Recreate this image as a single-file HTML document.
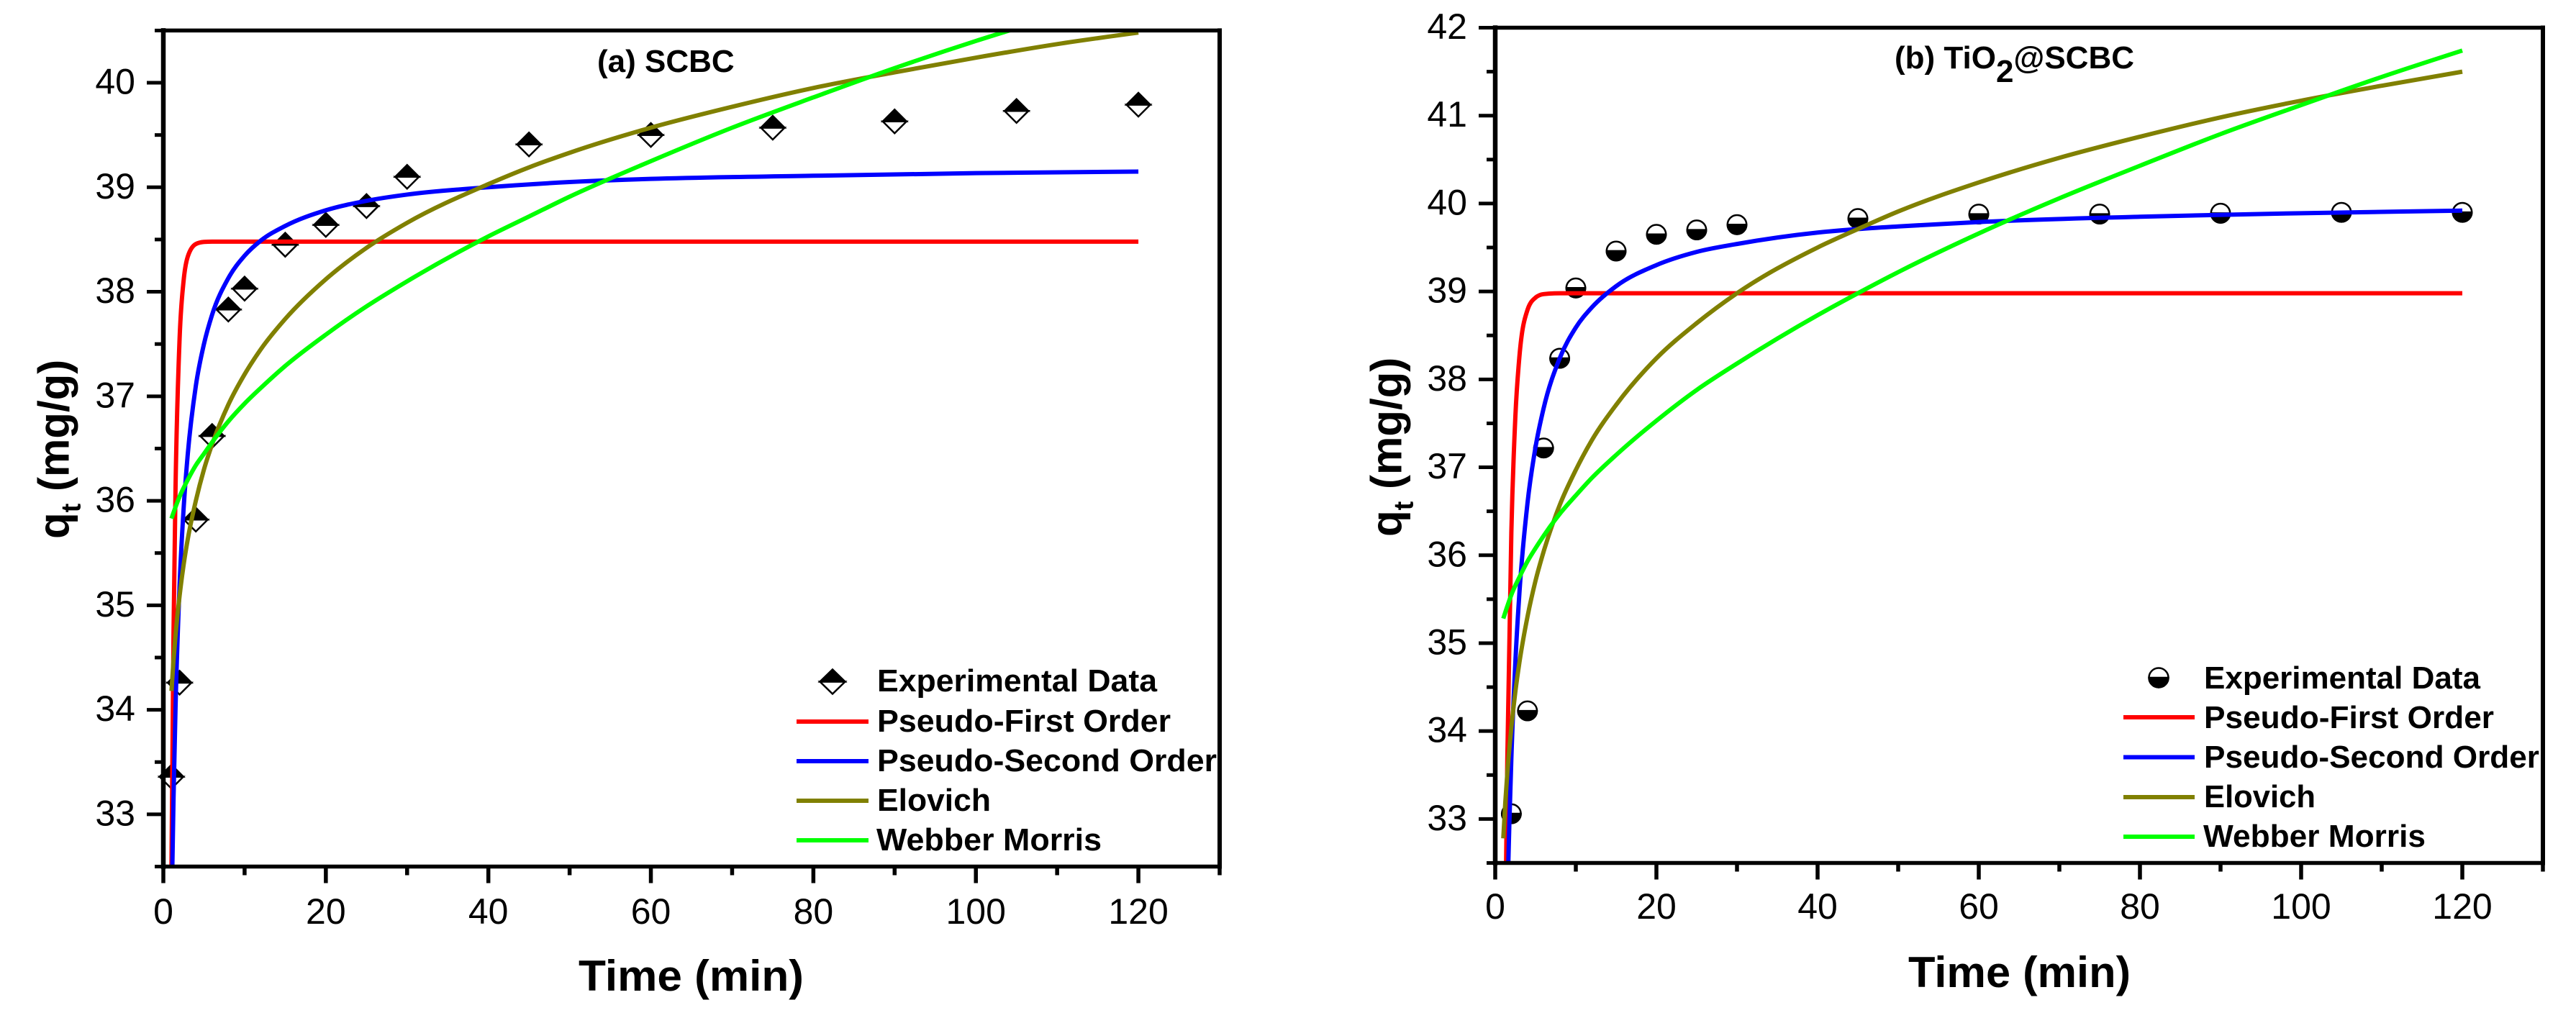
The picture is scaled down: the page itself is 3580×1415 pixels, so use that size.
<!DOCTYPE html>
<html lang="en">
<head>
<meta charset="utf-8">
<title>Adsorption kinetics of SCBC and TiO2@SCBC</title>
<style>
html,body{margin:0;padding:0;background:#fff;}
svg{display:block;}
text{font-family:"Liberation Sans",Arial,sans-serif;fill:#000;}
.lg{font-size:44px;font-weight:700;}
.ttl{font-weight:700;}
</style>
</head>
<body>
<svg id="figure" xmlns="http://www.w3.org/2000/svg" width="3580" height="1415" viewBox="0 0 3580 1415">
  <rect width="3580" height="1415" fill="#fff"/>
  <g id="panel-a"></g>
  <g id="panel-b"></g>

  <!-- Panel (a) static text -->
  <text class="ttl" x="830" y="100" font-size="44">(a) SCBC</text>
  <text class="ttl" x="804" y="1377" font-size="60" textLength="313" lengthAdjust="spacingAndGlyphs">Time (min)</text>
  <text class="ttl" transform="translate(95.5,749) rotate(-90)" font-size="60">q<tspan font-size="38" dy="16">t</tspan><tspan dy="-16"> (mg/g)</tspan></text>

  <g>
    <g transform="translate(1157,947.5)">
      <polygon points="-17.5,0 0,17 17.5,0" fill="#fff" stroke="#000" stroke-width="2.5" stroke-linejoin="miter"/>
      <polygon points="-17.5,0 0,-17 17.5,0" fill="#000" stroke="#000" stroke-width="2.5"/>
    </g>
    <line x1="1107" x2="1207" y1="1003" y2="1003" stroke="#ff0000" stroke-width="6"/>
    <line x1="1107" x2="1207" y1="1058" y2="1058" stroke="#0000ff" stroke-width="6"/>
    <line x1="1107" x2="1207" y1="1113" y2="1113" stroke="#808000" stroke-width="6"/>
    <line x1="1107" x2="1207" y1="1168" y2="1168" stroke="#00ff00" stroke-width="6"/>
    <text class="lg" x="1219" y="961" textLength="389" lengthAdjust="spacingAndGlyphs">Experimental Data</text>
    <text class="lg" x="1219" y="1017" textLength="408" lengthAdjust="spacingAndGlyphs">Pseudo-First Order</text>
    <text class="lg" x="1219" y="1072" textLength="472" lengthAdjust="spacingAndGlyphs">Pseudo-Second Order</text>
    <text class="lg" x="1219" y="1127" textLength="158" lengthAdjust="spacingAndGlyphs">Elovich</text>
    <text class="lg" x="1218" y="1182" textLength="313" lengthAdjust="spacingAndGlyphs">Webber Morris</text>
  </g>

  <!-- Panel (b) static text -->
  <text class="ttl" x="2633" y="95" font-size="44">(b) TiO<tspan dy="19">2</tspan><tspan dy="-19">@SCBC</tspan></text>
  <text class="ttl" x="2652" y="1372" font-size="60" textLength="309" lengthAdjust="spacingAndGlyphs">Time (min)</text>
  <text class="ttl" transform="translate(1947.5,746) rotate(-90)" font-size="60">q<tspan font-size="38" dy="16">t</tspan><tspan dy="-16"> (mg/g)</tspan></text>

  <g>
    <g transform="translate(3000,942)">
      <circle r="13.5" fill="#fff" stroke="#000" stroke-width="2.5"/>
      <path d="M-13.5,0 A13.5,13.5 0 0 0 13.5,0 Z" fill="#000" stroke="#000" stroke-width="2.5"/>
    </g>
    <line x1="2951" x2="3050" y1="997" y2="997" stroke="#ff0000" stroke-width="6"/>
    <line x1="2951" x2="3050" y1="1052.5" y2="1052.5" stroke="#0000ff" stroke-width="6"/>
    <line x1="2951" x2="3050" y1="1108" y2="1108" stroke="#808000" stroke-width="6"/>
    <line x1="2951" x2="3050" y1="1163" y2="1163" stroke="#00ff00" stroke-width="6"/>
    <text class="lg" x="3063" y="957" textLength="384" lengthAdjust="spacingAndGlyphs">Experimental Data</text>
    <text class="lg" x="3063" y="1012" textLength="403" lengthAdjust="spacingAndGlyphs">Pseudo-First Order</text>
    <text class="lg" x="3063" y="1067" textLength="466" lengthAdjust="spacingAndGlyphs">Pseudo-Second Order</text>
    <text class="lg" x="3063" y="1122" textLength="155" lengthAdjust="spacingAndGlyphs">Elovich</text>
    <text class="lg" x="3062" y="1177" textLength="309" lengthAdjust="spacingAndGlyphs">Webber Morris</text>
  </g>
</svg>

<script>
/* ---------- shared axis data ---------- */
const xMajorTicks = [0, 20, 40, 60, 80, 100, 120];
const xMajorLabels = ['0', '20', '40', '60', '80', '100', '120'];
const xMinorTicks = [10, 30, 50, 70, 90, 110, 130];

/* ---------- panel (a) data ---------- */
const yMajorTicksA = [33, 34, 35, 36, 37, 38, 39, 40];
const yMajorLabelsA = ['33', '34', '35', '36', '37', '38', '39', '40'];
const yMinorTicksA = [32.5, 33.5, 34.5, 35.5, 36.5, 37.5, 38.5, 39.5, 40.5];

const expTimesA = [1, 2, 4, 6, 8, 10, 15, 20, 25, 30, 45, 60, 75, 90, 105, 120];
const expValuesA = [33.36, 34.26, 35.82, 36.62, 37.83, 38.03, 38.45, 38.64, 38.82, 39.10, 39.41, 39.50, 39.57, 39.63, 39.73, 39.79];

const pfoTimesA = [1, 1.25, 1.5, 2, 2.5, 3, 4, 5, 6, 120];
const pfoValuesA = [32.49, 34.72, 36.12, 37.55, 38.11, 38.335, 38.457, 38.477, 38.48, 38.48];

const psoTimesA = [1.1, 1.25, 1.5, 2, 2.5, 3, 4, 5, 6, 8, 10, 12, 15, 20, 25, 30, 40, 50, 60, 80, 100, 120];
const psoValuesA = [32.46, 33.14, 34.02, 35.19, 35.93, 36.44, 37.10, 37.50, 37.78, 38.13, 38.345, 38.49, 38.63, 38.78, 38.87, 38.93, 39.00, 39.05, 39.08, 39.11, 39.135, 39.15];

const elovichTimesA = [1, 1.25, 1.5, 2, 2.5, 3, 4, 5, 6, 8, 10, 12, 15, 20, 25, 30, 40, 45, 50, 60, 70, 80, 90, 100, 110, 120];
const elovichValuesA = [34.18, 34.47, 34.71, 35.09, 35.39, 35.63, 36.00, 36.30, 36.54, 36.92, 37.21, 37.45, 37.74, 38.12, 38.42, 38.66, 39.03, 39.19, 39.33, 39.57, 39.77, 39.95, 40.10, 40.24, 40.37, 40.48];

const webberTimesA = [1, 1.5, 2, 3, 4, 5, 6, 8, 10, 12, 15, 20, 25, 30, 40, 45, 50, 60, 70, 80, 90, 100, 110, 120];
const webberValuesA = [35.83, 35.94, 36.04, 36.20, 36.34, 36.45, 36.56, 36.76, 36.93, 37.08, 37.29, 37.59, 37.86, 38.10, 38.53, 38.72, 38.91, 39.25, 39.57, 39.86, 40.14, 40.40, 40.64, 40.88];

/* ---------- panel (b) data ---------- */
const yMajorTicksB = [33, 34, 35, 36, 37, 38, 39, 40, 41, 42];
const yMajorLabelsB = ['33', '34', '35', '36', '37', '38', '39', '40', '41', '42'];
const yMinorTicksB = [32.5, 33.5, 34.5, 35.5, 36.5, 37.5, 38.5, 39.5, 40.5, 41.5];

const expTimesB = [2, 4, 6, 8, 10, 15, 20, 25, 30, 45, 60, 75, 90, 105, 120];
const expValuesB = [33.06, 34.23, 37.22, 38.24, 39.04, 39.46, 39.65, 39.70, 39.76, 39.83, 39.88, 39.88, 39.89, 39.90, 39.90];

const pfoTimesB = [1.35, 1.5, 2, 2.5, 3, 4, 5, 6, 8, 120];
const pfoValuesB = [32.5, 33.68, 36.26, 37.58, 38.26, 38.79, 38.93, 38.97, 38.98, 38.98];

const psoTimesB = [1.6, 1.75, 2, 2.5, 3, 4, 5, 6, 8, 10, 12, 15, 20, 25, 30, 40, 45, 50, 60, 80, 100, 120];
const psoValuesB = [32.41, 32.94, 33.69, 34.79, 35.57, 36.59, 37.23, 37.67, 38.24, 38.59, 38.82, 39.06, 39.30, 39.45, 39.54, 39.67, 39.71, 39.74, 39.79, 39.85, 39.89, 39.92];

const elovichTimesB = [1, 1.25, 1.5, 2, 2.5, 3, 4, 5, 6, 8, 10, 12, 15, 20, 25, 30, 40, 45, 50, 60, 70, 80, 90, 100, 110, 120];
const elovichValuesB = [32.78, 33.19, 33.52, 34.04, 34.45, 34.78, 35.30, 35.71, 36.04, 36.57, 36.97, 37.31, 37.71, 38.24, 38.64, 38.98, 39.50, 39.71, 39.91, 40.24, 40.52, 40.76, 40.98, 41.17, 41.34, 41.50];

const webberTimesB = [1, 1.5, 2, 3, 4, 5, 6, 8, 10, 12, 15, 20, 25, 30, 40, 45, 50, 60, 70, 80, 90, 100, 110, 120];
const webberValuesB = [35.28, 35.42, 35.55, 35.75, 35.93, 36.08, 36.22, 36.47, 36.68, 36.88, 37.14, 37.53, 37.88, 38.18, 38.73, 38.98, 39.22, 39.66, 40.06, 40.43, 40.79, 41.12, 41.44, 41.74];

/* ---------- helpers ---------- */
const SVG_NS = 'http://www.w3.org/2000/svg';

function make(tag, attrs, parent) {
  const node = document.createElementNS(SVG_NS, tag);
  for (const key in attrs) node.setAttribute(key, attrs[key]);
  parent.appendChild(node);
  return node;
}

function linearScale(d0, d1, r0, r1) {
  return function (v) { return r0 + (v - d0) / (d1 - d0) * (r1 - r0); };
}

/* Monotone cubic path through the read-off points */
function monotonePath(px, py) {
  const n = px.length;
  const w = [], secant = [];
  for (let i = 0; i < n - 1; i++) {
    w.push(px[i + 1] - px[i]);
    secant.push((py[i + 1] - py[i]) / w[i]);
  }
  const slope = new Array(n);
  for (let i = 1; i < n - 1; i++) {
    const a = secant[i - 1], b = secant[i];
    const mid = (a * w[i] + b * w[i - 1]) / (w[i - 1] + w[i]);
    slope[i] = a * b <= 0 ? 0 : Math.sign(a) * Math.min(Math.abs(a) * 2, Math.abs(b) * 2, Math.abs(mid));
  }
  slope[0] = (3 * secant[0] - slope[1]) / 2;
  slope[n - 1] = (3 * secant[n - 2] - slope[n - 2]) / 2;
  let d = 'M' + px[0].toFixed(2) + ',' + py[0].toFixed(2);
  for (let i = 0; i < n - 1; i++) {
    const h = w[i] / 3;
    d += ' C' + (px[i] + h).toFixed(2) + ',' + (py[i] + slope[i] * h).toFixed(2) + ' ' +
         (px[i + 1] - h).toFixed(2) + ',' + (py[i + 1] - slope[i + 1] * h).toFixed(2) + ' ' +
         px[i + 1].toFixed(2) + ',' + py[i + 1].toFixed(2);
  }
  return d;
}

function drawPanel(p) {
  const root = document.getElementById(p.rootId);
  const xScale = linearScale(0, 130, p.left, p.right);
  const yScale = linearScale(p.yMin, p.yMax, p.bottom, p.top);

  /* clip for the plotting area */
  const defs = make('defs', {}, root);
  const clip = make('clipPath', { id: p.rootId + '-clip' }, defs);
  make('rect', { x: p.left, y: p.top, width: p.right - p.left, height: p.bottom - p.top }, clip);

  /* experimental markers (beneath the fit lines) */
  const markers = make('g', {}, root);
  
  
  p.expTimes.forEach(function (t, i) {
    const g = make('g', { transform: 'translate(' + xScale(t) + ',' + yScale(p.expValues[i]) + ')' }, markers);
    
    
    if (p.marker === 'diamond') {
      make('polygon', { points: '-16.5,0 0,16.5 16.5,0', fill: '#fff', stroke: '#000', 'stroke-width': 2.5 }, g);
      make('polygon', { points: '-16.5,0 0,-16.5 16.5,0', fill: '#000', stroke: '#000', 'stroke-width': 2.5 }, g);
    } else {
      make('circle', { r: 13.2, fill: '#fff', stroke: '#000', 'stroke-width': 2.5 }, g);
      make('path', { d: 'M-13.2,0 A13.2,13.2 0 0 0 13.2,0 Z', fill: '#000', stroke: '#000', 'stroke-width': 2.5 }, g);
    }
  });

  /* fit curves */
  const curves = make('g', { 'clip-path': 'url(#' + p.rootId + '-clip)' }, root);
  
  
  p.series.forEach(function (s) {
    const path = make('path', {
      d: monotonePath(s.times.map(xScale), s.values.map(yScale)),
      fill: 'none', stroke: s.color, 'stroke-width': 6, 'stroke-linejoin': 'round'
    }, curves);
    
    
  });

  /* frame */
  const frame = make('g', { stroke: '#000', 'stroke-linecap': 'square' }, root);
  
  
  make('line', { x1: p.left, x2: p.left, y1: p.top, y2: p.bottom, 'stroke-width': 6.5 }, frame);
  make('line', { x1: p.right, x2: p.right, y1: p.top, y2: p.bottom, 'stroke-width': 6 }, frame);
  make('line', { x1: p.left, x2: p.right, y1: p.top, y2: p.top, 'stroke-width': 5.5 }, frame);
  make('line', { x1: p.left, x2: p.right, y1: p.bottom, y2: p.bottom, 'stroke-width': 5.5 }, frame);

  /* x axis */
  const xAxis = make('g', {}, root);
  
  
  p.xMajor.forEach(function (v, i) {
    const x = xScale(v);
    const tick = make('line', { x1: x, x2: x, y1: p.bottom, y2: p.bottom + 23, stroke: '#000', 'stroke-width': 5.5 }, xAxis);
    
    
    const label = make('text', { x: x, y: p.xLabelBase, 'font-size': 50, 'text-anchor': 'middle' }, xAxis);
    
    
    label.textContent = p.xLabels[i];
  });
  p.xMinor.forEach(function (v) {
    const x = xScale(v);
    const tick = make('line', { x1: x, x2: x, y1: p.bottom, y2: p.bottom + 12, stroke: '#000', 'stroke-width': 5.5 }, xAxis);
    
    
  });

  /* y axis */
  const yAxis = make('g', {}, root);
  
  
  p.yMajor.forEach(function (v, i) {
    const y = yScale(v);
    const tick = make('line', { x1: p.left - 23, x2: p.left, y1: y, y2: y, stroke: '#000', 'stroke-width': 5 }, yAxis);
    
    
    const label = make('text', { x: p.left - 39, y: y + 15.5, 'font-size': 50, 'text-anchor': 'end' }, yAxis);
    
    
    label.textContent = p.yLabels[i];
  });
  p.yMinor.forEach(function (v) {
    const y = yScale(v);
    const tick = make('line', { x1: p.left - 12, x2: p.left, y1: y, y2: y, stroke: '#000', 'stroke-width': 5 }, yAxis);
    
    
  });
}

drawPanel({
  rootId: 'panel-a', marker: 'diamond',
  left: 227, right: 1695, top: 42.4, bottom: 1204.5,
  yMin: 32.5, yMax: 40.5, xLabelBase: 1284,
  xMajor: xMajorTicks, xLabels: xMajorLabels, xMinor: xMinorTicks,
  yMajor: yMajorTicksA, yLabels: yMajorLabelsA, yMinor: yMinorTicksA,
  expTimes: expTimesA, expValues: expValuesA,
  series: [
    { name: 'pseudo-first-order-curve', color: '#ff0000', times: pfoTimesA, values: pfoValuesA },
    { name: 'pseudo-second-order-curve', color: '#0000ff', times: psoTimesA, values: psoValuesA },
    { name: 'elovich-curve', color: '#808000', times: elovichTimesA, values: elovichValuesA },
    { name: 'webber-morris-curve', color: '#00ff00', times: webberTimesA, values: webberValuesA }
  ]
});

drawPanel({
  rootId: 'panel-b', marker: 'circle',
  left: 2078, right: 3534, top: 38.5, bottom: 1199.5,
  yMin: 32.5, yMax: 42, xLabelBase: 1277,
  xMajor: xMajorTicks, xLabels: xMajorLabels, xMinor: xMinorTicks,
  yMajor: yMajorTicksB, yLabels: yMajorLabelsB, yMinor: yMinorTicksB,
  expTimes: expTimesB, expValues: expValuesB,
  series: [
    { name: 'pseudo-first-order-curve', color: '#ff0000', times: pfoTimesB, values: pfoValuesB },
    { name: 'pseudo-second-order-curve', color: '#0000ff', times: psoTimesB, values: psoValuesB },
    { name: 'elovich-curve', color: '#808000', times: elovichTimesB, values: elovichValuesB },
    { name: 'webber-morris-curve', color: '#00ff00', times: webberTimesB, values: webberValuesB }
  ]
});
</script>
</body>
</html>
